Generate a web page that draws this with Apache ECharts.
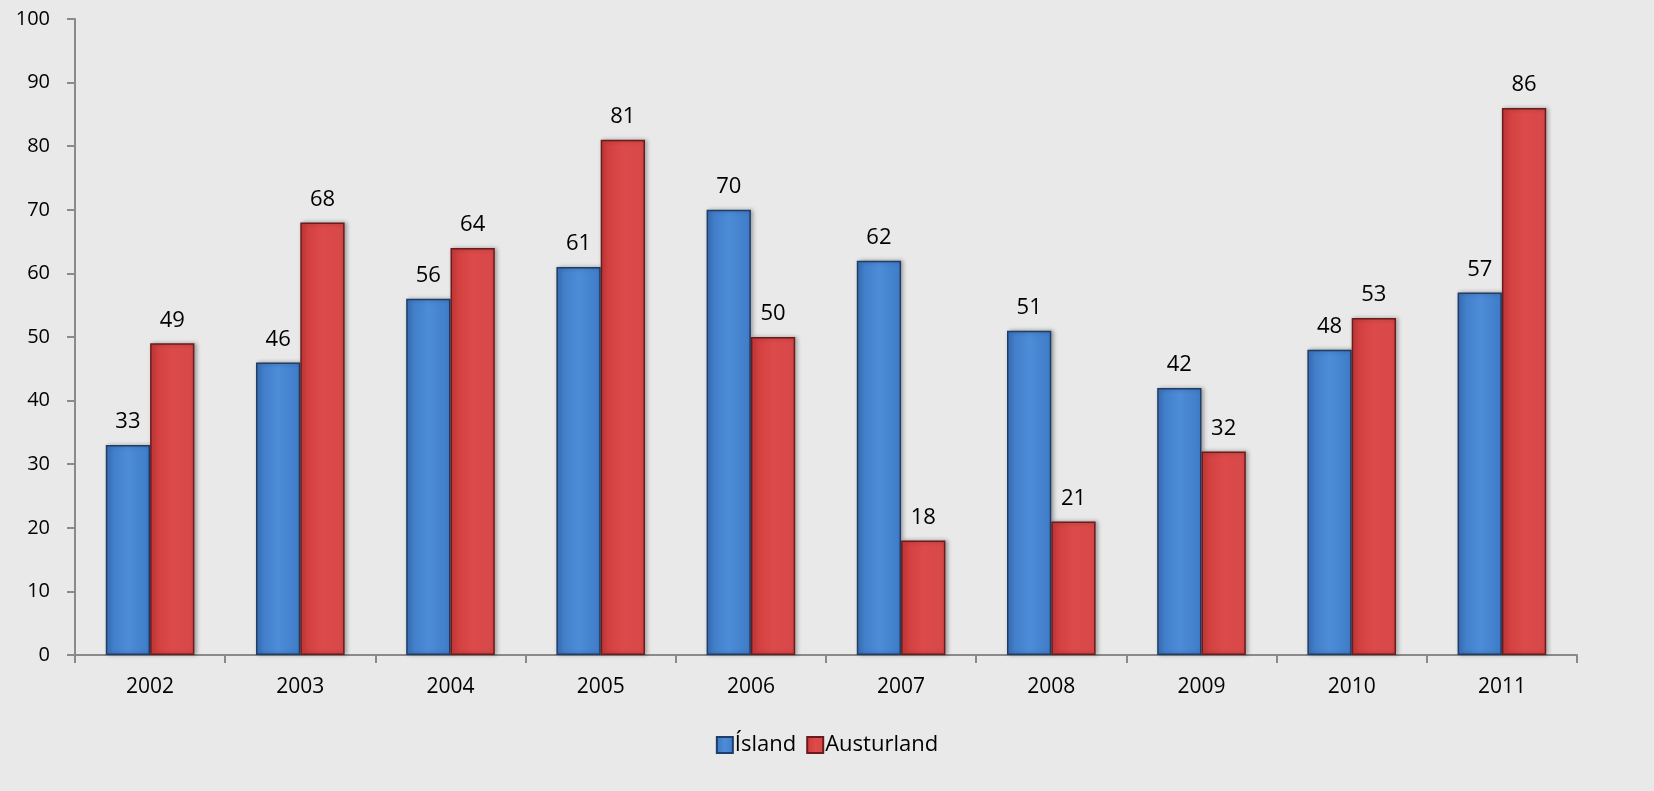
<!DOCTYPE html>
<html><head><meta charset="utf-8">
<script src="https://cdn.jsdelivr.net/npm/echarts@6/dist/echarts.min.js"></script>
<style>html,body{margin:0;padding:0;background:#e9e9e9;}#c{width:1654px;height:791px;}</style>
</head><body><div id="c"></div>
<script>
const categories = ['2002','2003','2004','2005','2006','2007','2008','2009','2010','2011'];
const islandValues = [33,46,56,61,70,62,51,42,48,57];
const austurlandValues = [49,68,64,81,50,18,21,32,53,86];
const seriesNames = ['Ísland','Austurland'];

const font = 'Open Sans, Lato, sans-serif';
function grad(c1,c2,c3){
  return new echarts.graphic.LinearGradient(0,0,1,0,[
    {offset:0,color:c1},{offset:0.5,color:c2},{offset:1,color:c3}]);
}
const chart = echarts.init(document.getElementById('c'));
chart.setOption({
  backgroundColor:'#e9e9e9',
  animation:false,
  grid:{left:75,right:77,top:19,bottom:136},
  legend:{bottom:30,left:'center',icon:'rect',itemWidth:16,itemHeight:16,itemGap:10,
    textStyle:{fontFamily:font,fontSize:22,color:'#000',padding:[0,0,0,-3]},
    data:seriesNames},
  xAxis:{type:'category',data:categories,
    axisLine:{lineStyle:{color:'#8a8a8a',width:2}},
    axisTick:{show:true,length:8,lineStyle:{color:'#8a8a8a',width:2}},
    axisLabel:{fontFamily:font,fontSize:21,color:'#000',margin:22}},
  yAxis:{type:'value',min:0,max:100,interval:10,
    axisLine:{show:true,lineStyle:{color:'#8a8a8a',width:2}},
    axisTick:{show:true,length:8,lineStyle:{color:'#8a8a8a',width:2}},
    splitLine:{show:false},
    axisLabel:{fontFamily:font,fontSize:20,color:'#000',margin:25}},
  series:[
    {name:seriesNames[0],type:'bar',data:islandValues,barGap:'0%',barCategoryGap:'41%',
     itemStyle:{color:grad('#3d78c4','#4d8cd8','#3f7cc8'),borderColor:'#1f3d66',borderWidth:1.5,
       shadowColor:'rgba(0,0,0,0.3)',shadowBlur:4,shadowOffsetX:2},
     label:{show:true,position:'top',distance:12,fontFamily:font,fontSize:22,color:'#000'}},
    {name:seriesNames[1],type:'bar',data:austurlandValues,
     itemStyle:{color:grad('#cf3b3b','#dc4a4a','#d84848'),borderColor:'#6a1b1b',borderWidth:1.5,
       shadowColor:'rgba(0,0,0,0.3)',shadowBlur:4,shadowOffsetX:2},
     label:{show:true,position:'top',distance:12,fontFamily:font,fontSize:22,color:'#000'}}
  ]
});
</script></body></html>
